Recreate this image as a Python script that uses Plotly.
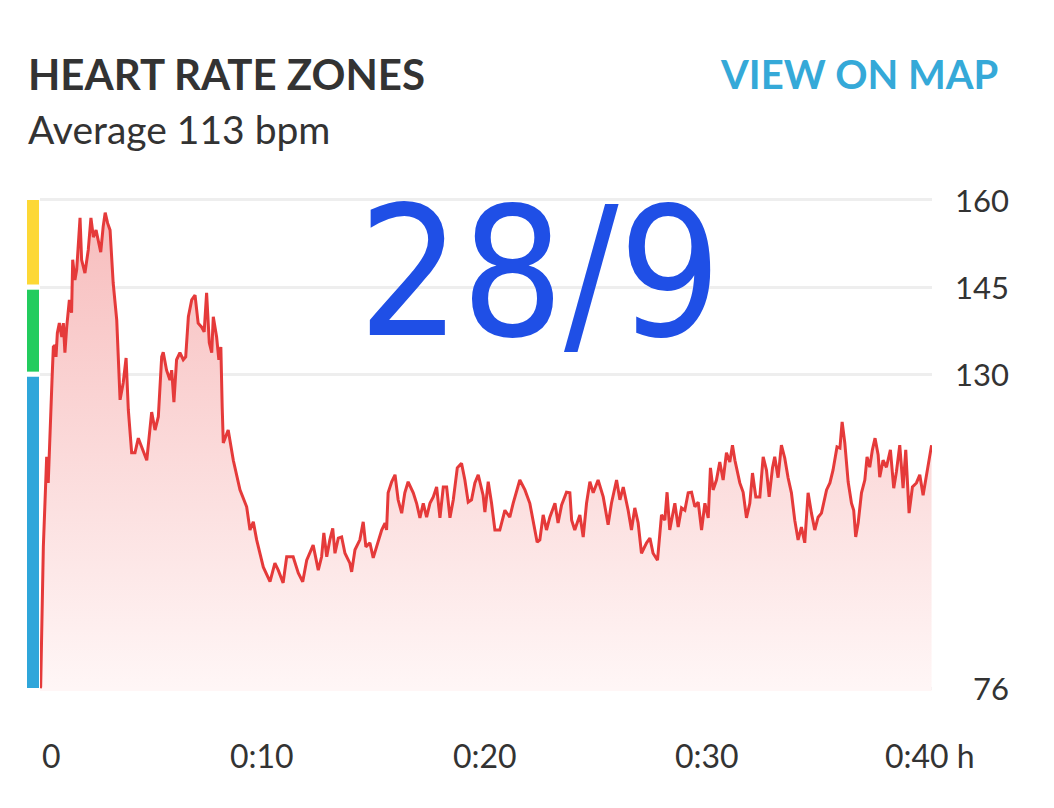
import plotly.graph_objects as go

# ---- data ----
time_min = [0, 0.03, 0.15, 0.30, 0.37, 0.48, 0.54, 0.60, 0.67, 0.72, 0.78, 0.87, 0.98, 1.05, 1.12, 1.20, 1.32, 1.42, 1.47, 1.57,
            1.65, 1.80, 1.87, 2.02, 2.17, 2.29, 2.40, 2.52, 2.62, 2.73, 2.84, 2.93, 3.04, 3.15, 3.29, 3.45, 3.60, 3.74, 3.87, 3.97,
            4.12, 4.27, 4.42, 4.57, 4.80, 5.02, 5.17, 5.32, 5.47, 5.54, 5.69, 5.84, 5.92, 6.02, 6.14, 6.29, 6.44, 6.55, 6.67, 6.82,
            6.97, 7.11, 7.27, 7.38, 7.49, 7.61, 7.72, 7.79, 7.94, 8.04, 8.13, 8.19, 8.24, 8.46, 8.69, 8.99, 9.29, 9.44, 9.59, 9.74,
            10.04, 10.34, 10.56, 10.71, 10.93, 11.09, 11.24, 11.38, 11.61, 11.81, 11.99, 12.13, 12.28, 12.51, 12.66, 12.76, 12.89, 13.03, 13.16, 13.26,
            13.41, 13.56, 13.71, 13.93, 14.01, 14.16, 14.38, 14.53, 14.65, 14.83, 14.98, 15.13, 15.36, 15.51, 15.58, 15.65, 15.81, 15.96, 16.10, 16.26,
            16.40, 16.55, 16.78, 16.93, 17.08, 17.23, 17.38, 17.53, 17.68, 17.83, 17.98, 18.13, 18.28, 18.43, 18.58, 18.76, 18.95, 19.10, 19.25, 19.40,
            19.55, 19.70, 19.92, 20.00, 20.15, 20.30, 20.45, 20.67, 20.90, 21.12, 21.27, 21.57, 21.80, 22.02, 22.17, 22.35, 22.47, 22.62, 22.77, 22.92,
            23.15, 23.29, 23.45, 23.67, 23.82, 23.90, 24.04, 24.27, 24.42, 24.57, 24.72, 24.87, 25.09, 25.32, 25.54, 25.69, 25.92, 26.07, 26.22, 26.44,
            26.59, 26.74, 26.89, 27.04, 27.27, 27.42, 27.56, 27.76, 27.94, 28.09, 28.19, 28.31, 28.54, 28.69, 28.84, 28.99, 29.14, 29.29, 29.44, 29.59,
            29.74, 29.89, 30.04, 30.14, 30.26, 30.41, 30.56, 30.71, 30.86, 31.01, 31.13, 31.24, 31.46, 31.61, 31.76, 31.91, 32.03, 32.18, 32.36, 32.51,
            32.66, 32.78, 32.93, 33.03, 33.18, 33.33, 33.48, 33.63, 33.78, 33.93, 34.08, 34.23, 34.38, 34.53, 34.68, 34.83, 34.98, 35.13, 35.36, 35.51,
            35.65, 35.83, 35.96, 36.06, 36.18, 36.33, 36.48, 36.58, 36.67, 36.78, 36.93, 37.08, 37.18, 37.30, 37.42, 37.54, 37.68, 37.75, 37.90, 38.05,
            38.23, 38.38, 38.50, 38.65, 38.80, 38.92, 39.07, 39.22, 39.40, 39.55, 39.70, 39.85, 39.97, 40.08]

heart_rate = [76.0, 76.2, 100.3, 115.8, 111.3, 120.9, 129.0, 134.7, 135.0, 133.0, 137.1, 138.8, 136.4, 138.8, 133.7, 138.1, 142.8, 140.6, 149.7, 146.2,
              148.0, 156.9, 149.7, 147.4, 151.4, 156.9, 153.6, 154.8, 153.1, 151.0, 155.4, 157.8, 156.0, 154.8, 145.7, 139.3, 125.6, 128.5, 132.8, 123.9,
              116.5, 116.5, 119.0, 117.5, 115.2, 123.5, 120.4, 122.7, 133.0, 133.8, 130.7, 129.0, 130.7, 125.2, 132.5, 133.7, 132.5, 133.0, 139.9, 142.8,
              143.6, 138.8, 138.1, 137.3, 144.0, 135.4, 133.7, 139.9, 136.4, 132.5, 134.7, 124.4, 118.2, 120.4, 115.2, 110.1, 107.2, 103.2, 104.6, 101.5,
              96.8, 94.3, 97.5, 96.3, 94.1, 98.6, 98.6, 98.6, 95.8, 94.3, 98.0, 99.4, 100.6, 96.3, 98.6, 102.7, 98.6, 101.5, 103.5, 99.2,
              101.8, 102.0, 99.2, 97.5, 96.0, 99.8, 101.5, 104.6, 100.3, 101.0, 98.4, 100.3, 103.2, 104.4, 103.2, 109.6, 111.5, 112.7, 108.4, 106.1,
              109.6, 111.5, 109.6, 107.8, 105.3, 107.8, 105.4, 107.8, 108.9, 110.6, 105.3, 110.6, 110.6, 105.3, 108.4, 113.9, 114.7, 111.8, 108.0, 108.4,
              111.3, 112.7, 109.2, 106.3, 111.5, 107.8, 103.2, 103.2, 106.6, 105.4, 107.8, 111.8, 110.1, 107.8, 104.9, 101.1, 101.5, 105.8, 103.2, 105.4,
              107.8, 104.4, 107.5, 109.7, 109.6, 104.9, 103.2, 105.8, 102.0, 107.8, 111.5, 109.6, 111.8, 108.9, 104.1, 107.8, 111.8, 108.4, 110.6, 106.6,
              103.2, 107.0, 104.4, 99.2, 101.0, 101.8, 99.2, 98.0, 105.8, 104.9, 109.7, 103.2, 107.8, 103.7, 107.0, 106.6, 109.6, 109.7, 107.2, 108.0,
              103.2, 107.8, 105.3, 113.9, 110.1, 111.8, 114.9, 111.8, 116.5, 114.9, 117.8, 115.2, 111.3, 109.7, 105.3, 107.8, 113.0, 108.9, 108.9, 115.8,
              113.5, 108.9, 113.9, 115.8, 112.2, 117.8, 115.6, 112.2, 109.6, 104.9, 101.5, 103.7, 101.0, 109.6, 106.1, 103.2, 105.4, 106.1, 110.1, 111.3,
              113.5, 117.5, 117.3, 121.8, 118.2, 111.5, 107.8, 106.6, 102.0, 104.4, 109.6, 111.8, 115.8, 114.0, 117.0, 119.0, 116.1, 112.3, 115.2, 114.0,
              117.0, 110.4, 113.2, 117.8, 110.4, 117.0, 106.1, 110.6, 111.3, 112.7, 109.2, 112.7, 115.8, 117.8]

y_ticks = [76, 130, 145, 160]
x_tick_vals = [0, 10, 20, 30, 40]
x_tick_text = ["0", "0:10", "0:20", "0:30", "0:40 h"]

zone_low = [76, 130, 145]
zone_high = [130, 145, 160]
zone_colors = ["#2fa6da", "#22cc5e", "#fdd835"]

title_text = "HEART RATE ZONES"
subtitle_text = "Average 113 bpm"
link_text = "VIEW ON MAP"
note_text = "28/9"

# ---- layout geometry (page has an 8px body margin) ----
OFF = 8
W, H = 1054 - 2 * OFF, 808 - 2 * OFF
# plot area in page pixels: x 40..932, y 197..691
L = 40 - OFF
T = 197 - OFF
R = W - (932 - OFF)
B = H - (691 - OFF)
PW = W - L - R
PH = H - T - B


def px(x):
    # page pixel x -> paper x
    return (x - OFF - L) / PW


def py(y):
    # page pixel y -> paper y
    return (H - B - (y - OFF)) / PH


fig = go.Figure()

fig.add_trace(go.Scatter(
    x=time_min, y=heart_rate, mode="lines",
    line=dict(color="#e53a3a", width=3),
    fill="tozeroy",
    fillgradient=dict(type="vertical", start=76, stop=158,
                      colorscale=[[0, "#fff6f6"], [1, "#f7bdbd"]]),
    hoverinfo="skip", showlegend=False,
))

shapes = []
for lo, hi, c in zip(zone_low, zone_high, zone_colors):
    y0 = lo + (0.45 if lo > min(zone_low) else 0)
    y1 = hi - (0.45 if hi < max(zone_high) else 0)
    shapes.append(dict(type="rect", xref="paper", yref="y",
                       x0=px(27), x1=px(39), y0=y0, y1=y1,
                       fillcolor=c, line=dict(width=0), layer="above"))

annotations = []
font_main = "Lato, 'Open Sans', sans-serif"
annotations.append(dict(text="<b>" + title_text + "</b>", xref="paper", yref="paper",
                        x=px(26), y=py(74), xanchor="left", yanchor="middle", showarrow=False,
                        font=dict(family=font_main, size=42, color="#333333")))
annotations.append(dict(text=subtitle_text, xref="paper", yref="paper",
                        x=px(26), y=py(129), xanchor="left", yanchor="middle", showarrow=False,
                        font=dict(family=font_main, size=39, color="#333333")))
annotations.append(dict(text="<b>" + link_text + "</b>", xref="paper", yref="paper",
                        x=px(1000), y=py(74), xanchor="right", yanchor="middle", showarrow=False,
                        font=dict(family=font_main, size=40, color="#35a9d8")))
annotations.append(dict(text=note_text, xref="paper", yref="paper",
                        x=px(540), y=py(272), xanchor="center", yanchor="middle", showarrow=False,
                        font=dict(family="'DejaVu Sans Condensed', 'Liberation Sans Narrow', sans-serif",
                                  size=180, color="#1f4fe6")))

for v in y_ticks:
    annotations.append(dict(text=str(v), xref="paper", yref="y", x=px(1011), y=v,
                            xanchor="right", yanchor="middle", showarrow=False,
                            font=dict(family=font_main, size=31, color="#333333")))

for i, (v, t) in enumerate(zip(x_tick_vals, x_tick_text)):
    anchor = "left" if i == 0 else "center"
    annotations.append(dict(text=t, xref="x", yref="paper", x=v, y=py(755),
                            xanchor=anchor, yanchor="middle", showarrow=False,
                            font=dict(family=font_main, size=32, color="#333333")))

fig.update_layout(
    width=W, height=H,
    margin=dict(l=L, r=R, t=T, b=B),
    paper_bgcolor="white", plot_bgcolor="white",
    shapes=shapes, annotations=annotations,
    xaxis=dict(range=[0, 40.1], showgrid=False, zeroline=False, showticklabels=False, ticks=""),
    yaxis=dict(range=[75.5, 160.5], tickvals=y_ticks, showgrid=True, gridcolor="#eeeeee", gridwidth=2.5,
               zeroline=False, showticklabels=False, ticks="", side="right"),
)

fig.write_html("out.html")
